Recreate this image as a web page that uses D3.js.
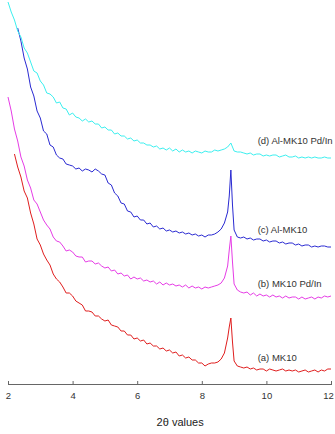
<!DOCTYPE html>
<html>
<head>
<meta charset="utf-8">
<script src="https://cdn.jsdelivr.net/npm/d3@7"></script>
<style>
  body { margin: 0; background: #fff; }
  svg { display: block; font-family: Arial, "Liberation Sans", sans-serif; }
</style>
</head>
<body>
<svg id="canvas" width="335" height="434"></svg>
<script>
// 2θ positions shared by every pattern (extra points around the 8.9° reflection)
const twoTheta = [
  2.0, 2.1, 2.2, 2.3, 2.4, 2.5, 2.6, 2.7, 2.8, 2.9,
  3.0, 3.1, 3.2, 3.3, 3.4, 3.5, 3.6, 3.7, 3.8, 3.9,
  4.0, 4.1, 4.2, 4.3, 4.4, 4.5, 4.6, 4.7, 4.8, 4.9,
  5.0, 5.1, 5.2, 5.3, 5.4, 5.5, 5.6, 5.7, 5.8, 5.9,
  6.0, 6.1, 6.2, 6.3, 6.4, 6.5, 6.6, 6.7, 6.8, 6.9,
  7.0, 7.1, 7.2, 7.3, 7.4, 7.5, 7.6, 7.7, 7.8, 7.9,
  8.0, 8.1, 8.2, 8.3, 8.4, 8.5, 8.6, 8.7, 8.8, 8.85, 8.9, 8.95,
  9.0, 9.1, 9.2, 9.3, 9.4, 9.5, 9.6, 9.7, 9.8, 9.9,
  10.0, 10.1, 10.2, 10.3, 10.4, 10.5, 10.6, 10.7, 10.8, 10.9,
  11.0, 11.1, 11.2, 11.3, 11.4, 11.5, 11.6, 11.7, 11.8, 11.9, 12.0
];

// intensities (offset, arbitrary units)
const mk10 = [
  null, null, 230, 217, 207, 193, 186, 171, 160, 145,
  139, 130, 124, 119, 110, 105, 102, 97, 91, 91,
  88, 83, 81, 79, 73, 73, 72, 68, 68, 65,
  63, 64, 59, 58, 57, 53, 53, 49, 49, 45,
  46, 43, 44, 40, 41, 38, 38, 35, 36, 33,
  34, 31, 32, 28, 29, 26, 27, 24, 24, 21,
  21, 18, 20, 21, 21, 22, 25, 31, 46, 57, 66, 42,
  23, 18, 17, 16, 17, 15, 16, 14, 15, 15,
  13, 15, 14, 13, 14, 15, 13, 14, 13, 14,
  12, 13, 14, 12, 13, 14, 12, 14, 13, 15, 15
];

const mk10PdIn = [
  287, 273, 255, 243, 227, 218, 204, 196, 184, 180,
  172, 164, 159, 155, 147, 143, 142, 138, 133, 134,
  132, 128, 127, 127, 122, 123, 123, 120, 121, 118,
  116, 117, 113, 114, 110, 111, 108, 109, 105, 107,
  105, 106, 103, 104, 102, 103, 100, 102, 99, 101,
  99, 100, 98, 99, 97, 99, 96, 98, 96, 97,
  95, 97, 96, 97, 98, 99, 101, 106, 118, 134, 148, 122,
  100, 94, 92, 91, 92, 89, 91, 88, 90, 88,
  89, 87, 89, 87, 88, 86, 88, 86, 87, 87,
  85, 87, 85, 86, 87, 85, 87, 86, 88, 87, 88
];

const alMk10 = [
  null, null, null, 356, 343, 326, 315, 297, 288, 273,
  266, 253, 250, 239, 237, 229, 226, 225, 220, 219,
  218, 215, 216, 213, 215, 214, 212, 215, 213, 210,
  209, 201, 199, 191, 188, 181, 180, 173, 172, 167,
  168, 164, 164, 160, 161, 157, 158, 155, 156, 153,
  154, 152, 153, 151, 152, 150, 151, 149, 150, 148,
  149, 147, 149, 149, 150, 152, 155, 161, 172, 188, 214, 179,
  154, 147, 146, 147, 145, 146, 144, 145, 145, 143,
  144, 142, 143, 143, 141, 142, 140, 141, 141, 139,
  140, 138, 139, 139, 137, 138, 137, 138, 138, 137, 137
];

const alMk10PdIn = [
  382, 372, 364, 353, 347, 336, 331, 322, 313, 311,
  303, 299, 291, 290, 287, 281, 282, 276, 275, 269,
  271, 267, 266, 263, 265, 262, 263, 260, 260, 256,
  257, 254, 254, 250, 251, 248, 248, 245, 246, 243,
  244, 241, 241, 239, 239, 237, 238, 235, 236, 234,
  236, 233, 235, 232, 234, 232, 233, 231, 233, 232,
  231, 233, 232, 232, 234, 233, 234, 235, 237, 239, 241, 237,
  233, 232, 232, 231, 230, 231, 229, 230, 230, 228,
  229, 228, 229, 229, 227, 228, 229, 227, 227, 228,
  226, 227, 226, 227, 226, 227, 226, 226, 227, 226, 226
];

const seriesNames = ["(a) MK10", "(b) MK10 Pd/In", "(c) Al-MK10", "(d) Al-MK10 Pd/In"];
const seriesValues = [mk10, mk10PdIn, alMk10, alMk10PdIn];
const seriesColors = ["#e01e1e", "#e63ce6", "#2a2ad2", "#3cefef"];
// where each label sits: 2θ of its left edge and intensity of its baseline
const labelX = [9.73, 9.73, 9.73, 9.73];
const labelY = [23, 97, 151, 240];

const xTicks = [2, 4, 6, 8, 10, 12];
const xTitle = "2θ values";

const settings = {
  axisY: 384,
  left: 8,
  right: 331,
};

function graph() {
  const svg = d3.select('#canvas');

  const x = d3.scaleLinear()
    .domain([2, 12])
    .range([settings.left, settings.right]);

  const y = d3.scaleLinear()
    .domain([0, 384])
    .range([settings.axisY, 0]);

  const line = d3.line()
    .defined(d => d[1] != null)
    .x(d => x(d[0]))
    .y(d => y(d[1]));

  svg.append("g")
    .attr("class", "patterns")
    .selectAll("path")
    .data(seriesValues)
    .join("path")
    .attr("d", vals => line(twoTheta.map((t, i) => [t, vals[i]])))
    .attr("fill", "none")
    .attr("stroke", (d, i) => seriesColors[i])
    .attr("stroke-width", 1)
    .attr("stroke-linejoin", "round");

  svg.append("g")
    .attr("class", "labels")
    .selectAll("text")
    .data(seriesNames)
    .join("text")
    .attr("x", (d, i) => x(labelX[i]))
    .attr("y", (d, i) => y(labelY[i]))
    .attr("font-size", 9.5)
    .attr("fill", "#333")
    .text(d => d);

  const axis = svg.append("g")
    .attr("transform", `translate(0,${settings.axisY})`)
    .call(d3.axisBottom(x).tickValues(xTicks).tickSize(0).tickPadding(8).tickSizeOuter(0));
  axis.select(".domain").attr("stroke", "#666");
  axis.selectAll(".tick text")
    .attr("font-size", 9.5)
    .attr("fill", "#333")
    .attr("font-family", "Arial, 'Liberation Sans', sans-serif");
  // the last label sits at the right edge of the picture, keep it inside
  axis.selectAll(".tick text").filter(d => d === 12).attr("dx", -3);
  // small ticks pointing up into the plot
  axis.selectAll(".tick line")
    .attr("y1", -3)
    .attr("y2", 1)
    .attr("stroke", "#666");

  svg.append("text")
    .attr("x", x(7.33))
    .attr("y", 426)
    .attr("text-anchor", "middle")
    .attr("font-size", 11)
    .attr("fill", "#222")
    .text(xTitle);
}

graph();
</script>
</body>
</html>
